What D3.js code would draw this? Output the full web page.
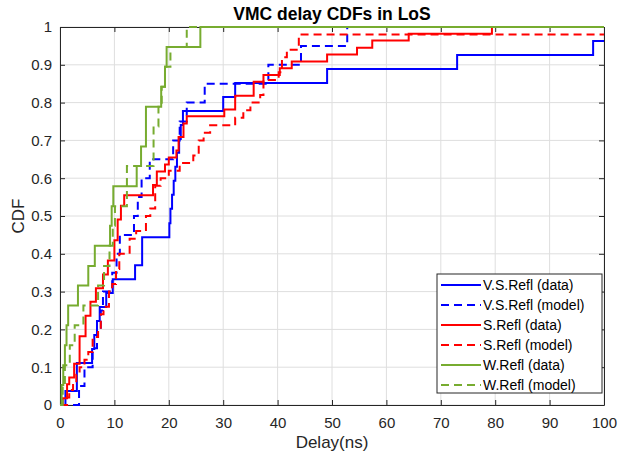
<!DOCTYPE html>
<html>
<head>
<meta charset="utf-8">
<script src="https://cdn.jsdelivr.net/npm/d3@7"></script>
<style>
  body { margin: 0; background: #fff; }
  text { font-family: "Liberation Sans", Arial, sans-serif; }
</style>
</head>
<body>
<div id="chart"></div>
<script>
// CDF steps: delay (ns) where the step happens, level after it
var vsDataX = [0, 1.0, 3.1, 5.9, 6.3, 6.8, 7.3, 8.5, 9.7, 13.8, 15.1, 20.1, 20.3, 20.6, 20.9, 21.2, 21.5, 21.9, 22.2, 22.6, 30.0, 32.2, 49.1, 73.0, 98.0, 100]
var vsDataY = [0, 0.037, 0.111, 0.148, 0.185, 0.222, 0.259, 0.296, 0.333, 0.370, 0.444, 0.481, 0.519, 0.556, 0.593, 0.630, 0.667, 0.704, 0.741, 0.778, 0.815, 0.852, 0.889, 0.926, 0.963, 0.963]

var vsModelX = [0, 3.5, 4.5, 6.0, 6.8, 7.5, 7.9, 9.6, 10.4, 11.0, 13.6, 14.3, 15.0, 16.5, 20.8, 22.0, 23.3, 26.6, 38.3, 44.3, 52.8, 100]
var vsModelY = [0, 0.05, 0.10, 0.15, 0.20, 0.25, 0.30, 0.35, 0.40, 0.45, 0.50, 0.55, 0.60, 0.65, 0.70, 0.75, 0.80, 0.85, 0.90, 0.95, 1.0, 1.0]

var sDataX = [0, 0.5, 1.3, 1.7, 2.6, 3.6, 4.7, 5.6, 6.6, 7.9, 8.8, 10.0, 10.6, 11.2, 11.8, 17.1, 17.8, 19.3, 20.0, 21.4, 21.8, 22.7, 23.3, 30.2, 32.2, 35.6, 37.4, 40.4, 42.6, 49.1, 54.6, 57.4, 64.1, 79.4, 100]
var sDataY = [0, 0.018, 0.055, 0.073, 0.109, 0.182, 0.236, 0.273, 0.309, 0.345, 0.382, 0.436, 0.491, 0.527, 0.555, 0.582, 0.618, 0.636, 0.655, 0.673, 0.709, 0.745, 0.764, 0.782, 0.818, 0.855, 0.873, 0.891, 0.909, 0.927, 0.945, 0.964, 0.982, 1.0, 1.0]

var sModelX = [0, 1.3, 1.7, 2.4, 3.0, 3.6, 4.5, 5.2, 6.0, 7.0, 7.5, 8.0, 9.0, 9.6, 10.3, 10.9, 12.8, 14.0, 15.8, 16.6, 17.5, 18.5, 20.0, 22.0, 24.5, 25.5, 26.4, 27.6, 32.2, 33.7, 35.0, 36.8, 37.4, 40.2, 40.8, 41.7, 43.9, 100]
var sModelY = [0, 0.02, 0.04, 0.06, 0.08, 0.10, 0.12, 0.14, 0.18, 0.20, 0.24, 0.26, 0.30, 0.32, 0.36, 0.40, 0.44, 0.46, 0.50, 0.52, 0.58, 0.60, 0.62, 0.64, 0.66, 0.70, 0.72, 0.74, 0.76, 0.78, 0.80, 0.82, 0.86, 0.88, 0.92, 0.94, 0.98, 0.98]

var wDataX = [0, 0.3, 0.6, 0.9, 1.2, 1.5, 3.3, 5.2, 6.4, 9.2, 9.5, 9.8, 14.1, 14.9, 15.8, 18.6, 19.3, 19.6, 25.8, 100]
var wDataY = [0, 0.053, 0.105, 0.158, 0.211, 0.263, 0.316, 0.368, 0.421, 0.474, 0.526, 0.579, 0.632, 0.684, 0.789, 0.842, 0.895, 0.947, 1.0, 1.0]

var wModelX = [0, 0.5, 0.9, 1.8, 2.7, 4.3, 7.0, 8.1, 9.1, 9.7, 10.1, 12.3, 17.2, 18.1, 18.7, 19.3, 20.3, 23.3, 100]
var wModelY = [0, 0.053, 0.105, 0.158, 0.211, 0.263, 0.316, 0.368, 0.421, 0.474, 0.526, 0.632, 0.737, 0.789, 0.842, 0.895, 0.947, 1.0, 1.0]

var legendNames = ["V.S.Refl (data)", "V.S.Refl (model)", "S.Refl (data)", "S.Refl (model)", "W.Refl (data)", "W.Refl (model)"]
var xTicks = [0, 10, 20, 30, 40, 50, 60, 70, 80, 90, 100]
var yTicks = [0, 0.1, 0.2, 0.3, 0.4, 0.5, 0.6, 0.7, 0.8, 0.9, 1]

var series = [
  { xs: vsDataX, ys: vsDataY, color: "#0000ff", dash: null },
  { xs: vsModelX, ys: vsModelY, color: "#0000ff", dash: "8,5" },
  { xs: sDataX, ys: sDataY, color: "#ff0000", dash: null },
  { xs: sModelX, ys: sModelY, color: "#ff0000", dash: "8,5" },
  { xs: wDataX, ys: wDataY, color: "#77ac30", dash: null },
  { xs: wModelX, ys: wModelY, color: "#77ac30", dash: "8,5" }
]

var margin = { top: 27, right: 14, bottom: 51, left: 60 },
  width = 618 - margin.left - margin.right,
  height = 456 - margin.top - margin.bottom;

var svg = d3.select("#chart").append("svg")
  .attr("width", 618)
  .attr("height", 456)

var g = svg.append("g")
  .attr("transform", "translate(" + margin.left + "," + margin.top + ")")

var x = d3.scaleLinear().domain([0, 100]).range([0, width])
var y = d3.scaleLinear().domain([0, 1]).range([height, 0])

// grid
g.append("g").selectAll("line").data(xTicks).enter().append("line")
  .attr("x1", d => x(d)).attr("x2", d => x(d))
  .attr("y1", 0).attr("y2", height)
  .style("stroke", "#dedede").style("stroke-width", 1)
g.append("g").selectAll("line").data(yTicks).enter().append("line")
  .attr("x1", 0).attr("x2", width)
  .attr("y1", d => y(d)).attr("y2", d => y(d))
  .style("stroke", "#dedede").style("stroke-width", 1)

// axes, ticks pointing inwards like matlab
g.append("g")
  .attr("transform", "translate(0," + height + ")")
  .call(d3.axisBottom(x).tickValues(xTicks).tickSize(-5).tickPadding(12).tickSizeOuter(0))
g.append("g")
  .call(d3.axisLeft(y).tickValues(yTicks).tickSize(-5).tickPadding(8).tickSizeOuter(0)
    .tickFormat(d => d3.format("")(+d.toFixed(1))))
g.append("g")
  .call(d3.axisTop(x).tickValues(xTicks).tickSize(-5).tickFormat("").tickSizeOuter(0))
g.append("g")
  .attr("transform", "translate(" + width + ",0)")
  .call(d3.axisRight(y).tickValues(yTicks).tickSize(-5).tickFormat("").tickSizeOuter(0))

g.selectAll(".domain").style("stroke", "#262626")
g.selectAll(".tick line").style("stroke", "#262626")
g.selectAll(".tick text")
  .style("font-size", "15px")
  .style("fill", "#262626")

// the cdf curves
var line = d3.line()
  .x(d => x(d[0]))
  .y(d => y(d[1]))
  .curve(d3.curveStepAfter)

series.forEach(function (s) {
  var pts = s.xs.map((v, i) => [v, s.ys[i]])
  g.append("path")
    .datum(pts)
    .attr("d", line)
    .style("fill", "none")
    .style("stroke", s.color)
    .style("stroke-width", 2)
    .style("stroke-dasharray", s.dash)
})

// title and labels
svg.append("text")
  .attr("x", margin.left + width / 2)
  .attr("y", 20)
  .attr("text-anchor", "middle")
  .style("font-size", "17.5px")
  .style("font-weight", "bold")
  .style("fill", "#000")
  .text("VMC delay CDFs in LoS")

svg.append("text")
  .attr("x", margin.left + width / 2)
  .attr("y", 448)
  .attr("text-anchor", "middle")
  .style("font-size", "17px")
  .style("fill", "#262626")
  .text("Delay(ns)")

svg.append("text")
  .attr("transform", "translate(24," + (margin.top + height / 2) + ") rotate(-90)")
  .attr("text-anchor", "middle")
  .style("font-size", "17px")
  .style("fill", "#262626")
  .text("CDF")

// legend
var legend = svg.append("g").attr("transform", "translate(437,274)")
legend.append("rect")
  .attr("width", 165)
  .attr("height", 119)
  .style("fill", "#fff")
  .style("stroke", "#262626")
  .style("stroke-width", 1)

var items = legend.selectAll(".item").data(series).enter().append("g")
  .attr("transform", (d, i) => "translate(0," + (11 + i * 20) + ")")
items.append("line")
  .attr("x1", 4).attr("x2", 44)
  .style("stroke", d => d.color)
  .style("stroke-width", 2)
  .style("stroke-dasharray", d => d.dash)
items.append("text")
  .attr("x", 46)
  .attr("y", 5)
  .style("font-size", "14px")
  .style("fill", "#000")
  .text((d, i) => legendNames[i])
</script>
</body>
</html>
